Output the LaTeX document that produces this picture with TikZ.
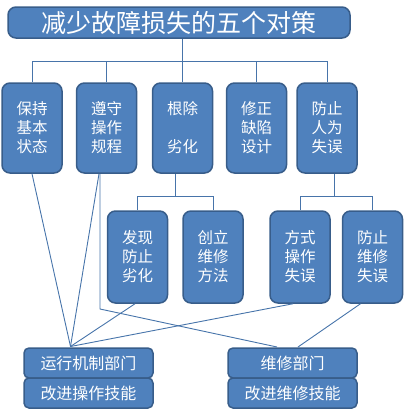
\documentclass[tikz,border=0pt]{standalone}
\usepackage{fontspec}
\setmainfont{Noto Sans CJK SC}
\usepackage{tikz}
\usetikzlibrary{positioning,calc}
\definecolor{boxblue}{HTML}{4F81BD}
\definecolor{boxedge}{HTML}{385D8A}

\begin{document}
\begin{tikzpicture}[x=1pt,y=-1pt,
  box/.style={draw=boxedge,line width=1.5pt,fill=boxblue,rounded corners=8pt,text=white,
    minimum width=60pt,minimum height=90pt,inner sep=0pt,align=center,
    font=\fontsize{15.5}{19}\selectfont},
  dept/.style={draw=boxedge,line width=1.5pt,fill=boxblue,rounded corners=5pt,text=white,
    minimum width=129pt,minimum height=30pt,inner sep=0pt,
    font=\fontsize{16}{19}\selectfont},
  link/.style={draw=boxblue!90!black,line width=0.9pt}]
 \useasboundingbox (0,0) rectangle (404,413);
 % title
 \node[box,minimum width=342pt,minimum height=31pt,font=\fontsize{25}{30}\selectfont] (title) at (179,22.5) {减少故障损失的五个对策};
 % five measures
 \node[box] (keep) at (32,128) {保持\\基本\\状态};
 \node[box] (rule) at (106.5,128) {遵守\\操作\\规程};
 \node[box] (wear) at (182.5,128) {根除\\\\劣化};
 \node[box] (design) at (256.5,128) {修正\\缺陷\\设计};
 \node[box] (human) at (327,128) {防止\\人为\\失误};
 % second level
 \node[box,minimum height=92pt] (find) at (137.5,257) {发现\\防止\\劣化};
 \node[box,minimum height=92pt] (method) at (213,257) {创立\\维修\\方法};
 \node[box,minimum height=92pt] (operr) at (300,257) {方式\\操作\\失误};
 \node[box,minimum height=92pt] (mnterr) at (372.5,257) {防止\\维修\\失误};
 % departments
 \node[dept] (opdep) at (88.5,363) {运行机制部门};
 \node[dept] (opskill) at (88.5,393) {改进操作技能};
 \node[dept] (mntdep) at (292.5,363) {维修部门};
 \node[dept] (mntskill) at (292.5,393) {改进维修技能};

 \coordinate (bus) at (0,61);
 \coordinate (opin) at (70.5,346.5);
 \coordinate (mntin) at (277,347);
 \coordinate (mntin2) at (298,347);
 \coordinate (bend) at (100,309);

 % tree
 \draw[link] (wear.north |- title.south) -- (wear.north);
 \draw[link] (keep.north |- bus) -- (human.north |- bus);
 \foreach \b in {keep,rule,design,human}
   \draw[link] (\b.north) -- (\b.north |- bus);
 \draw[link] ($(wear.south)+(-7,0)$) -- ++(0,23) -| (find.north);
 \draw[link] ($(wear.south)+(-7,23)$) -| (method.north);
 \draw[link] ($(human.south)+(7,0)$) -- ++(0,23) -| (operr.north);
 \draw[link] ($(human.south)+(7,23)$) -| (mnterr.north);

 % to departments
 \draw[link] (keep.south) -- (opin);
 \draw[link] ($(rule.south)+(-7.5,0)$) -- (opin);
 \draw[link] ($(find.south)+(-2.5,0)$) -- (opin);
 \draw[link] ($(operr.south)+(-7,0)$) -- (opin);
 \draw[link] (rule.south -| bend) -- (bend) -- (mntin);
 \draw[link] ($(mnterr.south)+(-12,0)$) -- (mntin2);
\end{tikzpicture}
\end{document}
